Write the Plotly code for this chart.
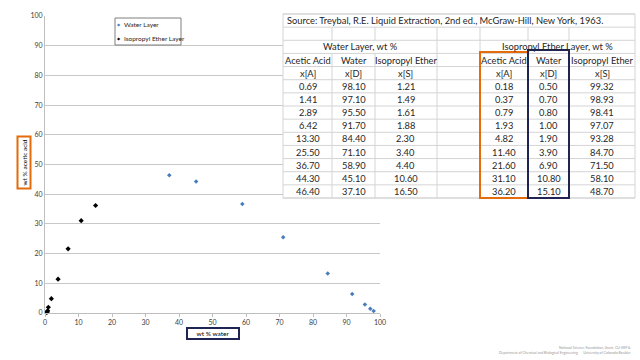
import plotly.graph_objects as go

# ---- data (Treybal, acetic acid / water / isopropyl ether, wt %) ----
water_acid = [0.69, 1.41, 2.89, 6.42, 13.30, 25.50, 36.70, 44.30, 46.40]
water_water = [98.10, 97.10, 95.50, 91.70, 84.40, 71.10, 58.90, 45.10, 37.10]
water_ether = [1.21, 1.49, 1.61, 1.88, 2.30, 3.40, 4.40, 10.60, 16.50]
ether_acid = [0.18, 0.37, 0.79, 1.93, 4.82, 11.40, 21.60, 31.10, 36.20]
ether_water = [0.50, 0.70, 0.80, 1.00, 1.90, 3.90, 6.90, 10.80, 15.10]
ether_ether = [99.32, 98.93, 98.41, 97.07, 93.28, 84.70, 71.50, 58.10, 48.70]

series_names = ["Water Layer", "Isopropyl Ether Layer"]
series_colors = ["#4a7ebb", "#000000"]
source_text = "Source: Treybal, R.E. Liquid Extraction, 2nd ed., McGraw-Hill, New York, 1963."
group_labels = ["Water Layer, wt %", "Isopropyl Ether Layer, wt %"]
col_headers = ["Acetic Acid", "Water", "Isopropyl Ether", "", "Acetic Acid", "Water", "Isopropyl Ether"]
col_symbols = ["x[A]", "x[D]", "x[S]", "", "x[A]", "x[D]", "x[S]"]
tick_vals = [0, 10, 20, 30, 40, 50, 60, 70, 80, 90, 100]

FONT = "Lato"
W, H = 640, 360
L, R, T, B = 45, 380, 16, 313


def X(px):
    return (px - L) / (R - L)


def Y(py):
    return (B - py) / (B - T)


fig = go.Figure()
fig.add_trace(go.Scatter(
    x=water_water, y=water_acid, mode="markers", name=series_names[0],
    marker=dict(symbol="diamond", size=3.5, color=series_colors[0]), cliponaxis=False))
fig.add_trace(go.Scatter(
    x=ether_water, y=ether_acid, mode="markers", name=series_names[1],
    marker=dict(symbol="diamond", size=4, color=series_colors[1]), cliponaxis=False))

shapes = []
annotations = []

# ---- legend box (drawn) ----
shapes.append(dict(type="rect", xref="paper", yref="paper", x0=X(115), x1=X(181), y0=Y(18), y1=Y(45),
                   line=dict(color="#7f7f7f", width=1), fillcolor="white", layer="above"))
for i, (nm, col) in enumerate(zip(series_names, series_colors)):
    yy = 24.5 + i * 13.5
    annotations.append(dict(text="◆", xref="paper", yref="paper", x=X(118.5), y=Y(yy),
                            xanchor="center", yanchor="middle", showarrow=False,
                            font=dict(family="DejaVu Sans", size=4, color=col)))
    annotations.append(dict(text=nm, xref="paper", yref="paper", x=X(122), y=Y(yy),
                            xanchor="left", yanchor="middle", showarrow=False,
                            font=dict(family=FONT, size=6.5, color="#262626")))

# ---- table ----
cols = [283, 332, 375, 437, 480, 528, 569, 635]
top = 14
rh = (198 - 14) / 14
nrows = 14
grid = "#d4d4d4"
shapes.append(dict(type="rect", xref="paper", yref="paper", x0=X(cols[0]), x1=X(cols[-1]),
                   y0=Y(top), y1=Y(top + nrows * rh), fillcolor="white",
                   line=dict(color=grid, width=1), layer="above"))
for i in range(nrows + 1):
    yy = top + i * rh
    shapes.append(dict(type="line", xref="paper", yref="paper", x0=X(cols[0]), x1=X(cols[-1]),
                       y0=Y(yy), y1=Y(yy), line=dict(color=grid, width=1), layer="above"))
for r in range(nrows):
    if r == 0:
        inner = []
    elif r == 2:
        inner = [cols[3], cols[4]]
    else:
        inner = cols[1:-1]
    for cx in inner:
        shapes.append(dict(type="line", xref="paper", yref="paper", x0=X(cx), x1=X(cx),
                           y0=Y(top + r * rh), y1=Y(top + (r + 1) * rh),
                           line=dict(color=grid, width=1), layer="above"))

tfont = dict(family=FONT, size=9.3, color="#262626")


def cell_text(txt, px, row, align="center"):
    annotations.append(dict(text=txt, xref="paper", yref="paper", x=X(px), y=Y(top + (row + 0.5) * rh),
                            xanchor=align, yanchor="middle", showarrow=False, font=tfont))


cell_text(source_text, cols[0] + 2, 0, "left")
cell_text(group_labels[0], (cols[0] + cols[3]) / 2, 2)
cell_text(group_labels[1], (cols[4] + cols[7]) / 2, 2)
centers = [(cols[i] + cols[i + 1]) / 2 for i in range(7)]
for c in range(7):
    if col_headers[c]:
        cell_text(col_headers[c], centers[c], 3)
        cell_text(col_symbols[c], centers[c], 4)
table_cols = [water_acid, water_water, water_ether, None, ether_acid, ether_water, ether_ether]
for c, vals in enumerate(table_cols):
    if vals is None:
        continue
    for r, v in enumerate(vals):
        cell_text(f"{v:.2f}", centers[c], 5 + r)

# highlight boxes
shapes.append(dict(type="rect", xref="paper", yref="paper", x0=X(480), x1=X(528), y0=Y(52), y1=Y(198),
                   line=dict(color="#e46c0a", width=2), layer="above"))
shapes.append(dict(type="rect", xref="paper", yref="paper", x0=X(528), x1=X(569), y0=Y(50), y1=Y(198),
                   line=dict(color="#1f2453", width=2), layer="above"))

# axis titles in boxes
annotations.append(dict(text="wt % acetic acid", xref="paper", yref="paper", x=X(23.5), y=Y(163),
                        xanchor="center", yanchor="middle",
                        textangle=-90, showarrow=False, font=dict(family=FONT, size=6.5, color="#000"),
                        bordercolor="#e46c0a", borderwidth=2, borderpad=2, bgcolor="white"))
annotations.append(dict(text="wt % water", xref="paper", yref="paper", x=X(213), y=Y(333),
                        xanchor="center", yanchor="middle",
                        showarrow=False, font=dict(family=FONT, size=6.5, color="#000"),
                        bordercolor="#1f2453", borderwidth=2, borderpad=1, bgcolor="white",
                        width=48))

# credits
annotations.append(dict(text="National Science Foundation, Grant, CU-EEP &<br>Department of Chemical and Biological Engineering      University of Colorado Boulder",
                        xref="paper", yref="paper", x=X(633), y=Y(357), xanchor="right", yanchor="bottom",
                        showarrow=False, align="right", font=dict(family=FONT, size=3.5, color="#999")))

fig.update_layout(
    width=W, height=H,
    margin=dict(l=L, r=W - R, t=T, b=H - B),
    paper_bgcolor="white", plot_bgcolor="white",
    font=dict(family=FONT, size=7, color="#404040"),
    showlegend=False,
    xaxis=dict(range=[0, 100], tickvals=tick_vals, showgrid=False, zeroline=False,
               showline=True, linecolor="#bfbfbf", ticks="outside", ticklen=3, tickcolor="#bfbfbf",
               tickfont=dict(size=7, color="#404040")),
    yaxis=dict(range=[0, 100], tickvals=tick_vals, showgrid=True, gridcolor="#c8c8c8", zeroline=False,
               showline=True, linecolor="#bfbfbf", ticks="", tickfont=dict(size=7, color="#404040")),
    shapes=shapes, annotations=annotations,
)

fig.write_html("out.html")
